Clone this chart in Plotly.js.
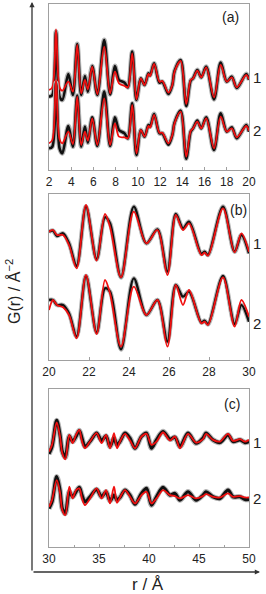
<!DOCTYPE html>
<html><head><meta charset="utf-8">
<script src="https://cdn.plot.ly/plotly-3.0.1.min.js"></script>
<style>body{margin:0;padding:0;background:#fff}#plot{width:266px;height:594px}</style>
</head><body><div id="plot"></div>
<script>
// Panel (a): r from 2 to 20 Å (arbitrary G(r) units, stacked)
var rA = [2.0,2.3,2.63,2.95,3.2,3.74,4.15,4.54,4.9,5.23,5.5,5.89,6.35,6.97,7.5,7.93,8.3,8.8,9.1,9.49,9.87,10.26,10.6,10.95,11.1,11.46,11.94,12.2,12.75,13.1,13.3,13.85,14.35,14.75,14.97,15.35,15.7,16.15,16.85,17.45,18.0,18.45,18.9,19.75,20.0];
var a1Red = [270,262,88,262,272,245,275,135,280,240,268,200,283,140,280,215,250,258,262,160,298,235,255,222,228,192,245,243,278,255,215,183,312,240,235,212,232,202,292,195,245,232,262,225,238];
var a1Blk = [290,285,95,290,300,222,285,132,285,228,275,198,285,120,283,198,240,248,262,155,300,235,255,220,226,190,248,245,282,255,213,180,318,242,235,210,232,200,298,188,245,230,264,222,240];
var a2Red = [430,420,240,418,430,395,432,290,435,395,422,355,435,295,435,370,410,412,415,315,460,390,410,378,383,345,398,398,430,405,370,335,470,393,385,365,385,355,445,350,395,385,412,378,392];
var a2Blk = [445,440,248,445,460,378,440,287,440,380,428,352,438,275,438,352,390,400,415,310,465,390,410,375,380,342,400,400,434,405,368,332,476,395,385,362,385,352,450,340,395,382,415,375,395];
// Panel (b): r from 20 to 30 Å
var rB = [20.0,20.2,20.4,20.7,21.0,21.38,21.85,22.38,22.8,23.05,23.6,24.24,24.87,25.42,25.92,26.34,26.7,27.0,27.62,27.78,27.95,28.7,29.28,29.62,30.0];
var b1Red = [125,120,135,135,165,235,45,212,72,110,262,65,160,120,255,75,120,100,195,188,197,55,187,130,185];
var b1Blk = [125,122,138,130,160,228,50,208,82,100,262,50,160,118,245,72,115,95,192,185,195,50,185,135,190];
var b2Red = [360,330,345,352,375,445,255,432,270,310,470,290,375,330,470,285,345,300,400,395,405,262,410,330,380];
var b2Blk = [330,330,345,345,370,440,258,428,295,305,478,265,375,330,455,285,320,305,398,392,403,258,402,345,395];
// Panel (c): r from 30 to 50 Å
var rC = [30.0,30.3,30.77,31.1,31.33,31.63,32.03,32.36,32.7,33.03,33.3,33.6,34.1,34.76,35.26,35.7,36.1,36.5,36.8,37.1,37.6,38.1,38.6,39.25,39.75,40.25,40.75,41.4,42.1,42.6,43.1,43.9,44.7,45.4,45.7,46.4,47.1,47.9,48.4,49.1,49.6,50.0];
var c1Blk = [222,200,122,165,215,232,168,185,170,152,175,200,185,160,182,168,200,175,195,185,160,175,205,170,160,205,180,155,178,172,200,160,190,175,160,180,188,165,185,180,188,185];
var c1Red = [215,195,128,170,220,238,165,190,165,150,185,205,185,160,190,165,205,160,205,185,162,182,205,170,162,195,185,158,182,170,205,162,188,178,162,180,185,162,183,178,185,180];
var c2Blk = [385,365,290,330,385,400,335,350,335,322,345,365,350,328,350,335,362,345,360,352,330,345,372,340,325,375,350,322,345,340,360,335,360,345,335,350,355,330,350,350,358,358];
var c2Red = [380,360,300,338,390,405,320,355,330,325,355,375,355,325,355,330,370,320,368,352,330,350,370,345,335,370,355,330,345,348,355,345,355,348,342,350,352,340,350,348,352,352];

var panels = [
  {x: rA, base: 510, sets: [[a1Blk,a1Red],[a2Blk,a2Red]], xa:'x', ya:'y', bw:2.6},
  {x: rB, base: 510, sets: [[b1Blk,b1Red],[b2Blk,b2Red]], xa:'x2', ya:'y2', bw:2.4},
  {x: rC, base: 500, sets: [[c1Blk,c1Red],[c2Blk,c2Red]], xa:'x3', ya:'y3', bw:3.2}
];
var traces = [];
panels.forEach(function(p){
  p.sets.forEach(function(s){
    // values are read in 3x-zoom pixel units; converted to plot units (/3)
    var blk = s[0].map(function(v){return (p.base - v)/3;});
    var red = s[1].map(function(v){return (p.base - v)/3;});
    traces.push({x:p.x, y:blk, xaxis:p.xa, yaxis:p.ya, mode:'lines', line:{color:'#b4b4b4', width:p.bw+2.2, shape:'spline', smoothing:0.9}, hoverinfo:'skip', showlegend:false});
    traces.push({x:p.x, y:blk, xaxis:p.xa, yaxis:p.ya, mode:'lines', line:{color:'#111', width:p.bw, shape:'spline', smoothing:0.9}, showlegend:false});
    traces.push({x:p.x, y:red, xaxis:p.xa, yaxis:p.ya, mode:'lines', line:{color:'#f01010', width:1.8, shape:'spline', smoothing:0.9}, showlegend:false});
  });
});

var W = 266, H = 594;
function fx(px){return px/W;}
function fy(py){return 1 - py/H;}
var xbase = {showline:true, mirror:true, linecolor:'#a0a0a0', linewidth:1.2, zeroline:false, showgrid:false,
  ticks:'inside', ticklen:3, tickcolor:'#a0a0a0', tickfont:{family:'Liberation Sans, Arial, sans-serif', size:12, color:'#222'}};
var ybase = {showline:true, mirror:true, linecolor:'#a0a0a0', linewidth:1.2, zeroline:false, showgrid:false, showticklabels:false, ticks:''};
function ax(o, extra){ var r = {}; for (var k in o) r[k]=o[k]; for (var k2 in extra) r[k2]=extra[k2]; return r; }

var fam = 'Liberation Sans, Arial, sans-serif';
function ann(x, y, t, size, extra){
  var a = {xref:'paper', yref:'paper', x:fx(x), y:fy(y), text:t, showarrow:false, font:{family:fam, color:'#222', size:size}, xanchor:'center', yanchor:'middle'};
  for (var k in extra) a[k]=extra[k];
  return a;
}
var annotations = [
  ann(230, 17, '(a)', 14), ann(238, 210, '(b)', 14), ann(232, 404, '(c)', 14),
  ann(257, 77, '1', 15), ann(257, 130, '2', 15),
  ann(257, 243, '1', 15), ann(257, 323, '2', 15),
  ann(257, 442, '1', 15), ann(257, 498, '2', 15),
  ann(13, 292, 'G(r) / Å<sup>−2</sup>', 16, {textangle:-90}),
  ann(148, 584, 'r / Å', 17),
  {xref:'paper', yref:'paper', x:fx(32), y:fy(2), ax:0, ay:570, text:'', showarrow:true, arrowhead:2, arrowsize:0.8, arrowwidth:1.3, arrowcolor:'#333'},
  {xref:'paper', yref:'paper', x:fx(260), y:fy(572), ax:-228, ay:0, text:'', showarrow:true, arrowhead:2, arrowsize:0.8, arrowwidth:1.3, arrowcolor:'#333'}
];

var layout = {
  width: W, height: H, margin:{l:0, r:0, t:0, b:0}, paper_bgcolor:'#fff', plot_bgcolor:'#fff', showlegend:false,
  xaxis: ax(xbase, {domain:[fx(49), fx(249)], range:[2,20], tickvals:[2,4,6,8,10,12,14,16,18,20], anchor:'y'}),
  yaxis: ax(ybase, {domain:[fy(170), fy(4)], range:[0,166], anchor:'x'}),
  xaxis2: ax(xbase, {domain:[fx(49), fx(249)], range:[20,30], tickvals:[20,22,24,26,28,30], anchor:'y2'}),
  yaxis2: ax(ybase, {domain:[fy(360), fy(194)], range:[0,166], anchor:'x2'}),
  xaxis3: ax(xbase, {domain:[fx(49), fx(249)], range:[30,50], tickvals:[30,35,40,45,50], minor:{ticks:'inside', ticklen:2, dtick:2.5, tickcolor:'#a0a0a0'}, anchor:'y3'}),
  yaxis3: ax(ybase, {domain:[fy(547), fy(389)], range:[0,157.3], anchor:'x3'}),
  annotations: annotations
};
Plotly.newPlot('plot', traces, layout, {staticPlot:true});
</script></body></html>
